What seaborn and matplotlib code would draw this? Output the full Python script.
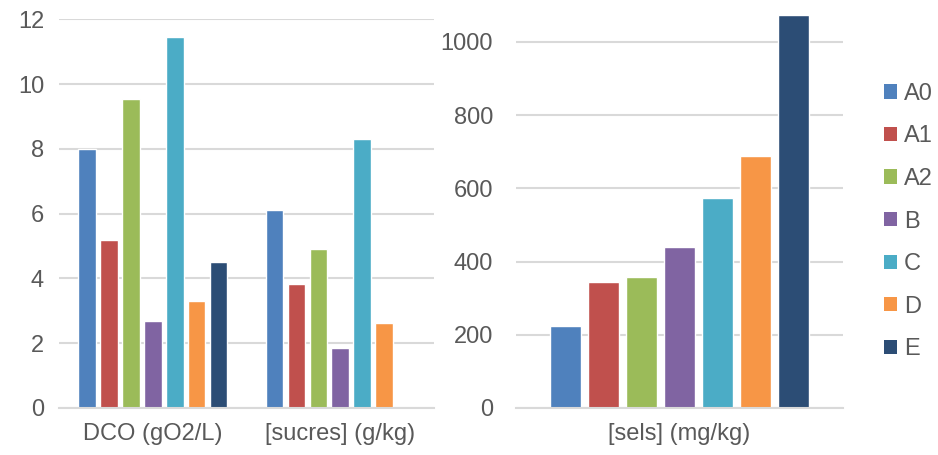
import matplotlib
matplotlib.use("Agg")
import matplotlib.pyplot as plt
from matplotlib.patches import Patch
import pandas as pd
import seaborn as sns

# données
series = ["A0", "A1", "A2", "B", "C", "D", "E"]
couleurs = ["#4F81BD", "#C0504D", "#9BBB59", "#8064A2", "#4BACC6", "#F79646", "#2C4D75"]

dco = [8.0, 5.2, 9.55, 2.7, 11.45, 3.3, 4.5]
sucres = [6.1, 3.84, 4.9, 1.85, 8.3, 2.62]  # pas de valeur pour E
sels = [224, 344, 358, 440, 574, 689, 1074]

cat_gauche = ["DCO (gO2/L)", "[sucres] (g/kg)"]
cat_droite = ["[sels] (mg/kg)"]

# Mise en forme longue pour seaborn
df_g = pd.DataFrame({
    "Paramètre": [cat_gauche[0]] * len(dco) + [cat_gauche[1]] * len(sucres),
    "Echantillon": series[:len(dco)] + series[:len(sucres)],
    "Valeur": dco + sucres,
})
df_d = pd.DataFrame({
    "Paramètre": cat_droite * len(sels),
    "Echantillon": series,
    "Valeur": sels,
})

palette = dict(zip(series, couleurs))

sns.set_style("white")
plt.rcParams["font.family"] = ["Liberation Sans", "DejaVu Sans"]

fig = plt.figure(figsize=(9.38, 4.55), dpi=100)
ax1 = fig.add_axes([59 / 938, 1 - 408 / 455, 375 / 938, 389.5 / 455])
ax2 = fig.add_axes([516 / 938, 1 - 408 / 455, 327 / 938, 403 / 455])

sns.barplot(df_g, x="Paramètre", y="Valeur", hue="Echantillon", hue_order=series,
            palette=palette, saturation=1, width=0.82, gap=0.2, legend=False, ax=ax1)
sns.barplot(df_d, x="Paramètre", y="Valeur", hue="Echantillon", hue_order=series,
            palette=palette, saturation=1, width=0.815, gap=0.18, legend=False, ax=ax2)

gris = "#D9D9D9"
texte = "#595959"
taille = 17

ax1.set_ylim(0, 12.03)
ax1.set_yticks(range(0, 13, 2))
ax2.set_ylim(0, 1101)
ax2.set_yticks(range(0, 1001, 200))

for ax, pad in [(ax1, 10.8), (ax2, 16.6)]:
    ax.set_xlim(-0.5, len(ax.get_xticks()) - 0.5)
    ax.set_xlabel("")
    ax.set_ylabel("")
    for s in ["top", "left", "right"]:
        ax.spines[s].set_visible(False)
    ax.spines["bottom"].set_color(gris)
    ax.spines["bottom"].set_linewidth(1.5)
    ax.yaxis.grid(True, color=gris, linewidth=1.5)
    ax.set_axisbelow(True)
    ax.tick_params(axis="y", length=0, pad=pad, labelsize=taille, labelcolor=texte)
    ax.tick_params(axis="x", length=0, pad=11, labelsize=taille, labelcolor=texte)

# légende à droite
handles = [Patch(facecolor=c, edgecolor="none") for c in couleurs]
fig.legend(handles, series, loc="center left", bbox_to_anchor=(884 / 938, 1 - 221.5 / 455),
           frameon=False, fontsize=taille, labelcolor=texte, borderpad=0, borderaxespad=0,
           handlelength=0.55, handleheight=0.55, handletextpad=0.3, labelspacing=0.87)

fig.savefig("out.png", dpi=100)
